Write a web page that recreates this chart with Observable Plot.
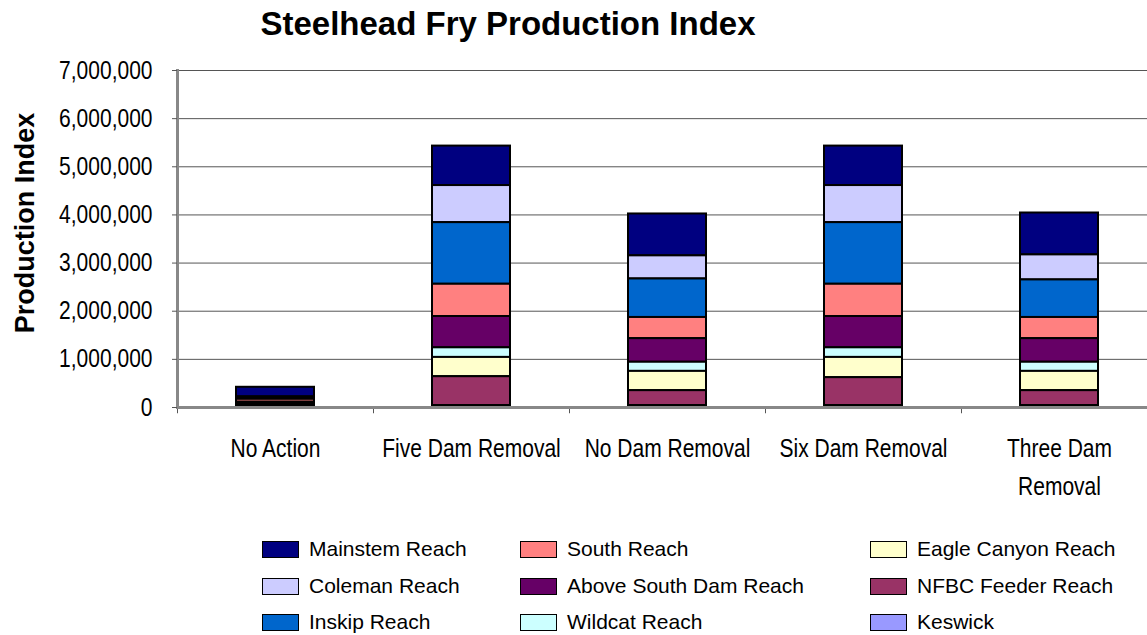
<!DOCTYPE html>
<html>
<head>
<meta charset="utf-8">
<script src="https://cdn.jsdelivr.net/npm/d3@7"></script>
<script src="https://cdn.jsdelivr.net/npm/@observablehq/plot@0.6"></script>
<style>
  html, body { margin: 0; padding: 0; background: #fff; }
  body { width: 1147px; height: 635px; overflow: hidden; position: relative; font-family: "Liberation Sans", Arial, sans-serif; }
  #title { position: absolute; left: 0; top: 5px; width: 1016px; text-align: center; font-weight: bold; font-size: 33px; color: #000; }
  #chart { position: absolute; left: 0; top: 0; }
  .item { position: absolute; display: flex; align-items: center; height: 24px; font-size: 21px; color: #000; white-space: nowrap; }
  .sw { width: 35px; height: 15px; border: 1.5px solid #000; margin-right: 10px; box-sizing: content-box; }
</style>
</head>
<body>
<div id="title">Steelhead Fry Production Index</div>
<div id="chart"></div>
<div id="legend"></div>
<script>
// ---- data ----
const categories = ["No Action", "Five Dam Removal", "No Dam Removal", "Six Dam Removal", "Three Dam Removal"];
// series listed top of stack -> bottom of stack (legend order, column-wise)
const seriesNames = ["Mainstem Reach", "Coleman Reach", "Inskip Reach", "South Reach", "Above South Dam Reach", "Wildcat Reach", "Eagle Canyon Reach", "NFBC Feeder Reach", "Keswick"];
const seriesColors = ["#000080", "#CCCCFF", "#0066CC", "#FF8080", "#660066", "#CCFFFF", "#FFFFCC", "#993366", "#9999FF"];

const mainstem     = [200000,  820000,  870000,  820000,  870000];
const coleman      = [ 10000,  770000,  480000,  770000,  520000];
const inskip       = [ 40000, 1280000,  800000, 1280000,  780000];
const south        = [ 60000,  670000,  440000,  670000,  440000];
const aboveSouth   = [ 40000,  650000,  490000,  650000,  490000];
const wildcat      = [ 10000,  200000,  190000,  200000,  190000];
const eagleCanyon  = [ 20000,  400000,  400000,  420000,  400000];
const nfbcFeeder   = [ 30000,  600000,  310000,  580000,  310000];
const keswick      = [ 10000,   40000,   40000,   40000,   40000];

const seriesValues = [mainstem, coleman, inskip, south, aboveSouth, wildcat, eagleCanyon, nfbcFeeder, keswick];
const yTicks = [0, 1000000, 2000000, 3000000, 4000000, 5000000, 6000000, 7000000];

// ---- build table ----
const rows = [];
seriesNames.forEach((s, i) => {
  categories.forEach((c, j) => rows.push({category: c, series: s, value: seriesValues[i][j]}));
});
const stackOrder = seriesNames.slice().reverse(); // bottom first

const sans = "'Liberation Sans', Arial, sans-serif";

const chart = Plot.plot({
  width: 1147,
  height: 525,
  marginTop: 70,
  marginBottom: 118,
  marginLeft: 177,
  marginRight: -10,
  style: {fontFamily: sans, fontSize: "25px", color: "#000", background: "transparent", overflow: "visible"},
  x: {domain: categories, paddingInner: 0.6, paddingOuter: 0.3},
  y: {domain: [0, 7000000]},
  color: {domain: seriesNames, range: seriesColors},
  marks: [
    Plot.gridY(yTicks, {stroke: "#555", strokeOpacity: 1, strokeWidth: 1}),
    Plot.barY(rows, Plot.stackY({order: stackOrder}, {x: "category", y: "value", z: "series", fill: "series", stroke: "#000", strokeWidth: 2})),
    Plot.ruleX(categories, {x: d => d, dx: -98, y1: 0, y2: -130000, stroke: "#555", strokeWidth: 1}),
    Plot.ruleY([0], {stroke: "#888", strokeWidth: 3}),
    Plot.frame({anchor: "left", stroke: "#888", strokeWidth: 3}),
    Plot.axisY(yTicks, {tickFormat: d3.format(","), tickSize: 5, tickPadding: 20, fontSize: 25, stroke: "#555", label: null}),
    Plot.axisX({tickSize: 0, tickPadding: 23, fontSize: 25, lineHeight: 1.5, label: null,
      tickFormat: d => d === "Three Dam Removal" ? "Three Dam\nRemoval" : d}),
    Plot.text(["Production Index"], {frameAnchor: "left", textAnchor: "middle", rotate: -90, dx: -152, dy: -16, fontWeight: "bold", fontSize: 27, fill: "#000"})
  ]
});
document.getElementById("chart").appendChild(chart);

// condense axis tick labels (reference uses a narrow typeface)
const squeeze = 0.84;
chart.querySelectorAll('g[aria-label="y-axis tick label"] text, g[aria-label="x-axis tick label"] text').forEach(t => {
  const spans = t.querySelectorAll("tspan");
  const parts = spans.length ? Array.from(spans) : [t];
  parts.forEach(p => {
    const len = p.getComputedTextLength();
    p.setAttribute("textLength", (len * squeeze).toFixed(1));
    p.setAttribute("lengthAdjust", "spacingAndGlyphs");
  });
});

// ---- legend (3 columns x 3 rows, column-wise) ----
const color = chart.scale("color");
const colX = [262, 520, 870];
const rowY = [537, 574, 610];
const legend = document.getElementById("legend");
color.domain.forEach((name, i) => {
  const col = Math.floor(i / 3), row = i % 3;
  const item = document.createElement("div");
  item.className = "item";
  item.style.left = colX[col] + "px";
  item.style.top = rowY[row] + "px";
  const sw = document.createElement("div");
  sw.className = "sw";
  sw.style.background = color.range[i];
  const label = document.createElement("span");
  label.textContent = name;
  item.appendChild(sw);
  item.appendChild(label);
  legend.appendChild(item);
});
</script>
</body>
</html>
